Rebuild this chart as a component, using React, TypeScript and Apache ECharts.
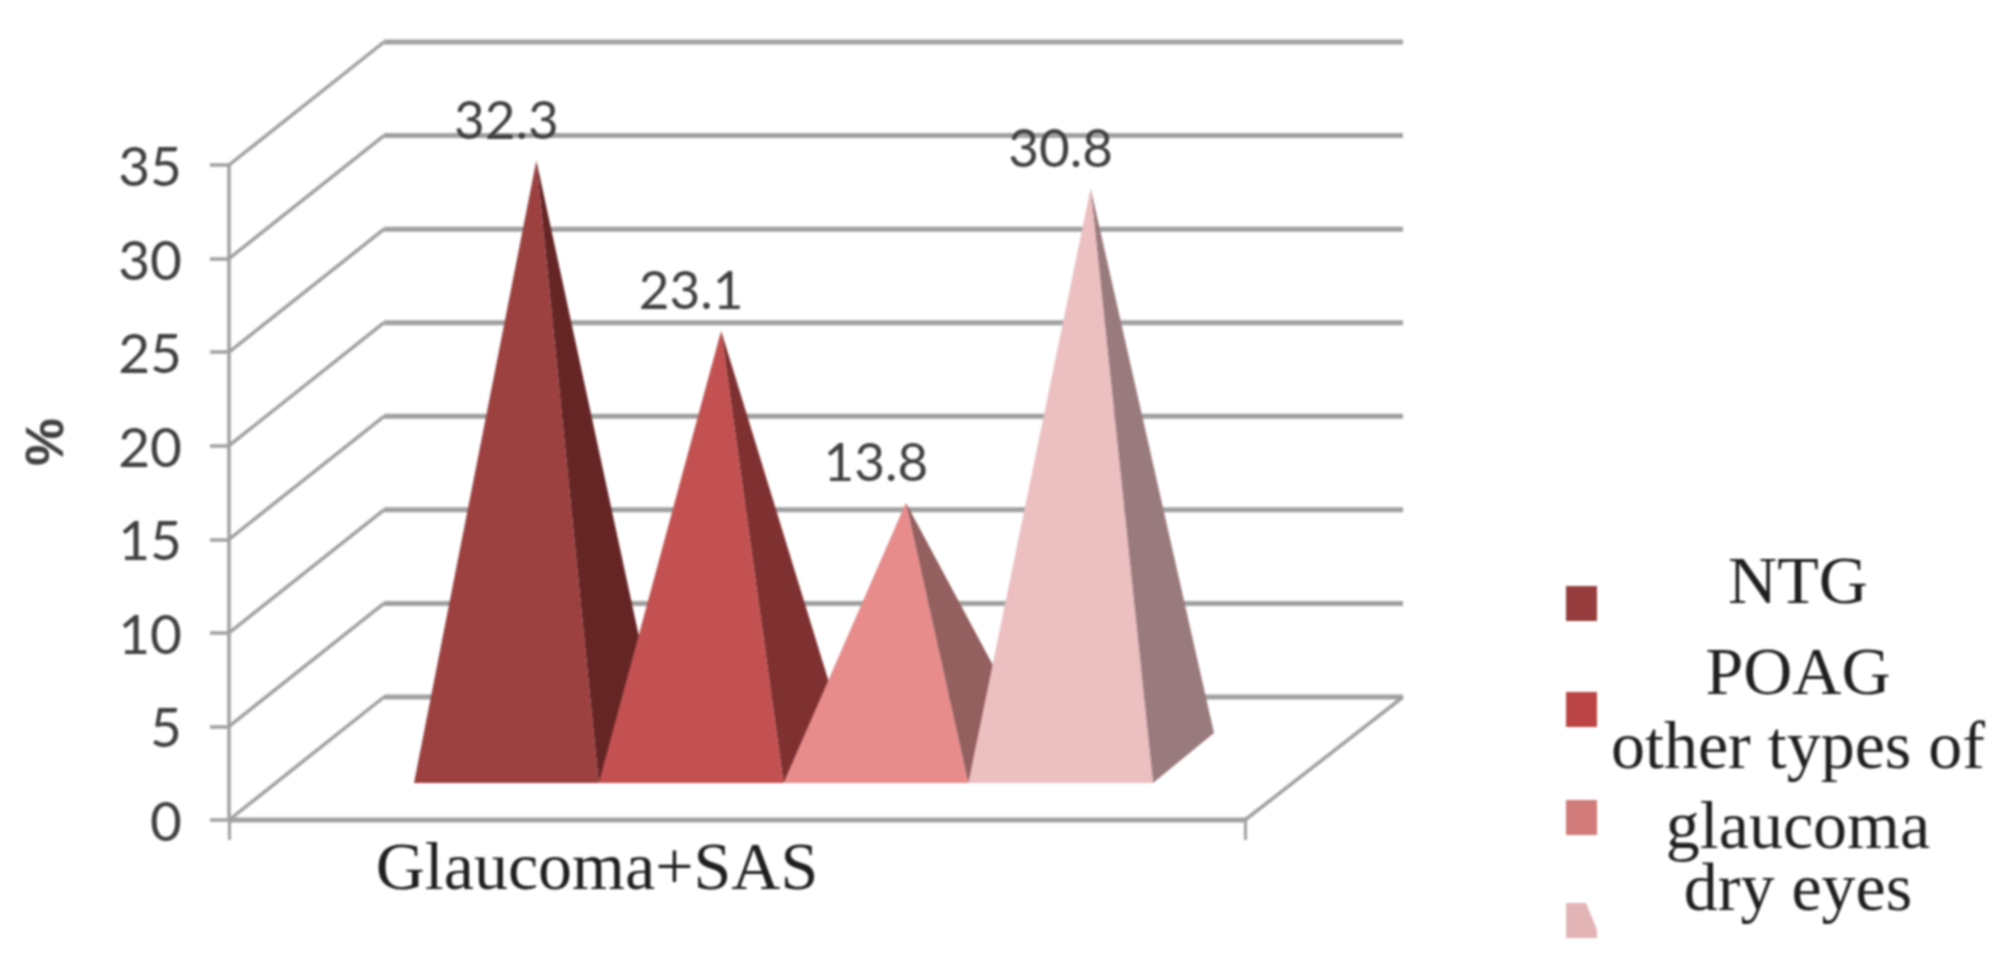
import React, { useEffect, useRef } from "react";
import * as echarts from "echarts";

const categories = ["Glaucoma+SAS"];
const seriesNames = ["NTG", "POAG", "other types of glaucoma", "dry eyes"];
const seriesValues = [32.3, 23.1, 13.8, 30.8];
const valueLabels = ["32.3", "23.1", "13.8", "30.8"];
const yTicks = [0, 5, 10, 15, 20, 25, 30, 35];
const frontColors = ["#9c4040", "#c45151", "#e78b8b", "#ecbfc1"];
const sideColors = ["#652525", "#7f3131", "#945f5f", "#9a7b7d"];
const legendColors = ["#973c3c", "#bb4545", "#d07a7a", "#e3b4b6"];
const legendRows = [586, 692, 800, 903];
const legendLines = [
  { text: "NTG", y: 580 },
  { text: "POAG", y: 671 },
  { text: "other types of", y: 745 },
  { text: "glaucoma", y: 825 },
  { text: "dry eyes", y: 887 },
];

const WALL_DX = 155;
const WALL_DY = -123;
const GRAY = "#a0a0a0";
const SANS = "Lato, 'Liberation Sans', sans-serif";
const SERIF = "'Liberation Serif', serif";

export default function App() {
  const ref = useRef<HTMLDivElement>(null);
  useEffect(() => {
    document.body.style.margin = "0";
    const chart = echarts.init(ref.current!, undefined, { renderer: "svg" });

    const wall = {
      type: "custom",
      silent: true,
      coordinateSystem: "cartesian2d",
      xAxisIndex: 0,
      yAxisIndex: 0,
      z: 1,
      data: yTicks.map((v) => [0, v]),
      renderItem: (params: any, api: any) => {
        const [, y] = api.coord([0, api.value(1)]);
        const left = params.coordSys.x;
        const right = left + params.coordSys.width;
        const children: any[] = [
          {
            type: "line",
            shape: { x1: left, y1: y, x2: left + WALL_DX, y2: y + WALL_DY },
            style: { stroke: GRAY, lineWidth: 3.5 },
          },
          {
            type: "line",
            shape: { x1: left + WALL_DX, y1: y + WALL_DY, x2: right + 158, y2: y + WALL_DY },
            style: { stroke: GRAY, lineWidth: 5 },
          },
        ];
        if (api.value(1) === 0) {
          children.push({
            type: "line",
            shape: { x1: left, y1: y, x2: right, y2: y },
            style: { stroke: GRAY, lineWidth: 5 },
          });
          children.push({
            type: "line",
            shape: { x1: right, y1: y, x2: right + 158, y2: y + WALL_DY },
            style: { stroke: GRAY, lineWidth: 3.5 },
          });
        }
        return { type: "group", children };
      },
    };

    const pyramids = seriesNames.map((name, i) => ({
      type: "custom",
      name,
      silent: true,
      coordinateSystem: "cartesian2d",
      xAxisIndex: 1,
      yAxisIndex: 1,
      z: 2 + i,
      clip: false,
      data: [[i, seriesValues[i]]],
      renderItem: (_params: any, api: any) => {
        const idx = api.value(0);
        const [x0, base] = api.coord([idx, 0]);
        const [x1] = api.coord([idx + 1, 0]);
        const [xm, top] = api.coord([idx + 0.5, api.value(1)]);
        const ax = xm + 30;
        return {
          type: "group",
          children: [
            {
              type: "polygon",
              shape: { points: [[ax, top], [x1, base + 25], [x1 + 61, base - 25]] },
              style: { fill: sideColors[i] },
            },
            {
              type: "polygon",
              shape: { points: [[ax, top], [x0, base + 25], [x1, base + 25]] },
              style: { fill: frontColors[i] },
            },
            {
              type: "text",
              style: {
                text: valueLabels[i],
                x: xm,
                y: top - 42,
                align: "center",
                verticalAlign: "middle",
                font: `53px ${SANS}`,
                fill: "#404040",
              },
            },
          ],
        };
      },
    }));

    const legendGraphics: any[] = [];
    legendRows.forEach((y, i) => {
      if (i < 3) {
        legendGraphics.push({
          type: "rect",
          shape: { x: 1566, y, width: 31, height: 35 },
          style: { fill: legendColors[i] },
        });
      } else {
        legendGraphics.push({
          type: "polygon",
          shape: {
            points: [[1566, y], [1586, y], [1597, y + 27], [1597, y + 35], [1566, y + 35]],
          },
          style: { fill: legendColors[i] },
        });
      }
    });
    legendLines.forEach((l) => {
      legendGraphics.push({
        type: "text",
        style: {
          text: l.text,
          x: 1798,
          y: l.y,
          align: "center",
          verticalAlign: "middle",
          font: `68px ${SERIF}`,
          fill: "#1f1f1f",
        },
      });
    });
    legendGraphics.push({
      type: "text",
      x: 44,
      y: 442,
      rotation: Math.PI / 2,
      style: {
        text: "%",
        align: "center",
        verticalAlign: "middle",
        font: `bold 54px 'Liberation Sans', sans-serif`,
        fill: "#404040",
      },
    });

    chart.setOption({
      animation: false,
      backgroundColor: "#ffffff",
      grid: [
        { left: 229, width: 1016, top: 165, height: 655 },
        { left: 414, width: 739, top: 110.5, height: 647.5 },
      ],
      xAxis: [
        {
          type: "category",
          gridIndex: 0,
          data: categories,
          axisLine: { show: false },
          axisTick: { show: true, length: 20, lineStyle: { color: GRAY, width: 3 } },
          axisLabel: {
            color: "#1f1f1f",
            fontFamily: "Liberation Serif",
            fontSize: 68,
            margin: 12,
            padding: [0, 280, 0, 0],
          },
          splitLine: { show: false },
        },
        { type: "value", gridIndex: 1, min: 0, max: 4, show: false },
      ],
      yAxis: [
        {
          type: "value",
          gridIndex: 0,
          min: 0,
          max: 35,
          interval: 5,
          axisLine: { show: true, lineStyle: { color: GRAY, width: 3.5 } },
          axisTick: { show: true, length: 19, lineStyle: { color: GRAY, width: 3.5 } },
          axisLabel: {
            color: "#404040",
            fontFamily: "Lato",
            fontSize: 55,
            margin: 47,
            padding: [6, 0, 0, 0],
          },
          splitLine: { show: false },
        },
        { type: "value", gridIndex: 1, min: 0, max: 35, show: false },
      ],
      graphic: legendGraphics,
      series: [wall, ...pyramids],
    });
    return () => chart.dispose();
  }, []);
  return (
    <div
      ref={ref}
      style={{
        position: "fixed",
        left: 0,
        top: 0,
        width: 2011,
        height: 971,
        background: "#fff",
        filter: "blur(0.9px)",
      }}
    />
  );
}
